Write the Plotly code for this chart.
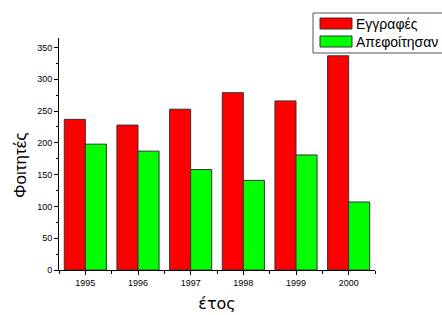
import plotly.graph_objects as go

years = [1995, 1996, 1997, 1998, 1999, 2000]
enrolled = [237, 228, 253, 279, 266, 337]
graduated = [198, 187, 158, 141, 181, 107]
series_names = ["Εγγραφές", "Απεφοίτησαν"]
series_colors = ["#FF0000", "#00FF00"]
x_title = "έτος"
y_title = "Φοιτητές"

W, H = 442, 315
L, R, T, B = 59, 67, 38, 45

fig = go.Figure()
for vals, name, col in zip([enrolled, graduated], series_names, series_colors):
    fig.add_trace(go.Bar(x=years, y=vals, name=name, showlegend=False,
                         marker=dict(color=col, line=dict(color="#333333", width=1))))

# manual legend (pixel-based positions converted to paper coords)
def px(x):
    return (x - L) / (W - L - R)

def py(y):
    return (H - B - y) / (H - T - B)

border = dict(color="#555555", width=1)
shapes = [
    dict(type="rect", xref="paper", yref="paper", x0=px(313), x1=px(442), y0=py(53), y1=py(13),
         line=dict(width=0), fillcolor="white", layer="above"),
    dict(type="line", xref="paper", yref="paper", x0=px(313), x1=px(442), y0=py(13), y1=py(13),
         line=border, layer="above"),
    dict(type="line", xref="paper", yref="paper", x0=px(313), x1=px(442), y0=py(53), y1=py(53),
         line=border, layer="above"),
    dict(type="line", xref="paper", yref="paper", x0=px(313), x1=px(313), y0=py(53), y1=py(13),
         line=border, layer="above"),
]
annotations = []
for i, (name, col) in enumerate(zip(series_names, series_colors)):
    top = 18 + i * 18
    shapes.append(dict(type="rect", xref="paper", yref="paper",
                       x0=px(320), x1=px(352), y0=py(top + 11), y1=py(top),
                       line=dict(color="#333333", width=1), fillcolor=col, layer="above"))
    annotations.append(dict(xref="paper", yref="paper", x=px(354), y=py(top + 5.5),
                            xanchor="left", yanchor="middle", text=name, showarrow=False,
                            font=dict(family="Liberation Sans, Arial", size=14, color="black")))

annotations.append(dict(xref="paper", yref="paper", x=px(20), y=py(166),
                        xanchor="center", yanchor="middle", text=y_title, textangle=-90,
                        showarrow=False,
                        font=dict(family="Liberation Sans, Arial", size=17, color="black")))

fig.update_layout(
    width=W, height=H,
    margin=dict(l=L, r=R, t=T, b=B, autoexpand=False),
    paper_bgcolor="white", plot_bgcolor="white",
    barmode="group", bargap=0.2, bargroupgap=0,
    font=dict(family="Liberation Sans, Arial", size=9, color="black"),
    showlegend=False,
    shapes=shapes, annotations=annotations,
)
fig.update_xaxes(
    range=[1994.5, 2000.5], tickmode="linear", tick0=1995, dtick=1,
    ticks="outside", ticklen=4, tickcolor="black", tickwidth=1,
    minor=dict(dtick=0.5, tick0=1994.5, ticks="outside", ticklen=3, tickcolor="black"),
    showline=True, linecolor="black", linewidth=1, showgrid=False, zeroline=False,
    tickfont=dict(size=9),
    title=dict(text=x_title, font=dict(family="DejaVu Sans", size=16), standoff=11),
)
fig.update_yaxes(
    range=[0, 365], tickmode="linear", tick0=0, dtick=50,
    ticks="outside", ticklen=4, tickcolor="black", tickwidth=1,
    minor=dict(dtick=25, ticks="outside", ticklen=2, tickcolor="black"),
    showline=True, linecolor="black", linewidth=1, showgrid=False, zeroline=False,
    tickfont=dict(size=9),
)

fig.write_html("out.html", config={"displayModeBar": False},
               post_script="document.body.style.margin='0';")
